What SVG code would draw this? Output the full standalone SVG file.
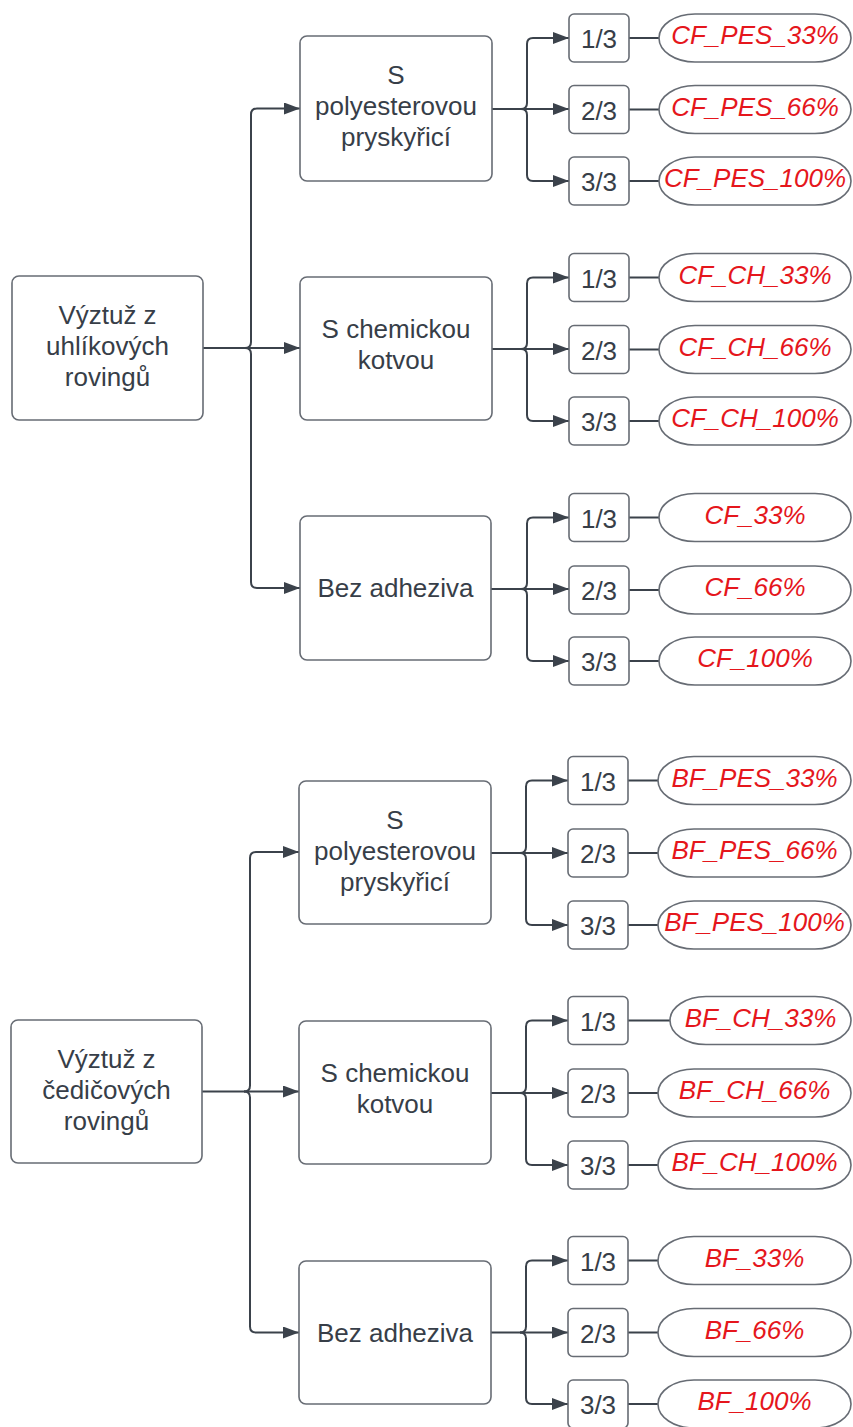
<svg xmlns="http://www.w3.org/2000/svg" width="853" height="1427" viewBox="0 0 853 1427">
  <defs>
    <marker id="arrow" viewBox="0 0 16 12" refX="16" refY="6" markerWidth="16" markerHeight="12" markerUnits="userSpaceOnUse" orient="auto">
      <path d="M0,0 L16,6 L0,12 z" fill="#3b424b"/>
    </marker>
  </defs>
  <style>
    .box { fill: #ffffff; stroke: #676c74; stroke-width: 1.6; }
    .pill { fill: #ffffff; stroke: #676c74; stroke-width: 1.6; }
    .lbl { font-family: "Liberation Sans", Arial, sans-serif; font-size: 26px; fill: #373e48; text-anchor: middle; }
    .frac { font-family: "Liberation Sans", Arial, sans-serif; font-size: 26px; fill: #373e48; text-anchor: middle; }
    .code { font-family: "Liberation Sans", Arial, sans-serif; font-size: 26px; font-style: italic; fill: #e5161c; text-anchor: middle; }
    .arr { fill: none; stroke: #3b424b; stroke-width: 2; marker-end: url(#arrow); }
    .ln { fill: none; stroke: #3b424b; stroke-width: 2; }
  </style>

  <rect width="853" height="1427" fill="#ffffff"/>

  <!-- connectors -->
  <g id="connectors">
    <!-- carbon: root to methods -->
    <path class="arr" d="M203,348 H300"/>
    <path class="arr" d="M245,348 Q251,348 251,342 V114.5 Q251,108.5 257,108.5 H300"/>
    <path class="arr" d="M245,348 Q251,348 251,354 V582 Q251,588 257,588 H300"/>
    <!-- carbon / polyester -->
    <path class="arr" d="M492,109 H569"/>
    <path class="arr" d="M521,109 Q527,109 527,103 V44 Q527,38 533,38 H569"/>
    <path class="arr" d="M521,109 Q527,109 527,115 V175 Q527,181 533,181 H569"/>
    <!-- carbon / chemical anchor -->
    <path class="arr" d="M492,349 H569"/>
    <path class="arr" d="M521,349 Q527,349 527,343 V283.5 Q527,277.5 533,277.5 H569"/>
    <path class="arr" d="M521,349 Q527,349 527,355 V415 Q527,421 533,421 H569"/>
    <!-- carbon / no adhesive -->
    <path class="arr" d="M491,589 H569"/>
    <path class="arr" d="M521,589 Q527,589 527,583 V523.5 Q527,517.5 533,517.5 H569"/>
    <path class="arr" d="M521,589 Q527,589 527,595 V655 Q527,661 533,661 H569"/>
    <!-- carbon: fractions to codes -->
    <path class="ln" d="M629,38 H659 M629,109.5 H659 M629,181 H659 M629,277.5 H659 M629,349.5 H659 M629,421 H659 M629,517.5 H659 M629,590 H659 M629,661 H659"/>

    <!-- basalt: root to methods -->
    <path class="arr" d="M202,1091.5 H299"/>
    <path class="arr" d="M244,1091.5 Q250,1091.5 250,1085.5 V858 Q250,852 256,852 H299"/>
    <path class="arr" d="M244,1091.5 Q250,1091.5 250,1097.5 V1326.5 Q250,1332.5 256,1332.5 H299"/>
    <!-- basalt / polyester -->
    <path class="arr" d="M491,853 H568"/>
    <path class="arr" d="M520,853 Q526,853 526,847 V786.5 Q526,780.5 532,780.5 H568"/>
    <path class="arr" d="M520,853 Q526,853 526,859 V919 Q526,925 532,925 H568"/>
    <!-- basalt / chemical anchor -->
    <path class="arr" d="M491,1093 H568"/>
    <path class="arr" d="M520,1093 Q526,1093 526,1087 V1026.5 Q526,1020.5 532,1020.5 H568"/>
    <path class="arr" d="M520,1093 Q526,1093 526,1099 V1159 Q526,1165 532,1165 H568"/>
    <!-- basalt / no adhesive -->
    <path class="arr" d="M491,1332.5 H568"/>
    <path class="arr" d="M520,1332.5 Q526,1332.5 526,1326.5 V1266.5 Q526,1260.5 532,1260.5 H568"/>
    <path class="arr" d="M520,1332.5 Q526,1332.5 526,1338.5 V1398 Q526,1404 532,1404 H568"/>
    <!-- basalt: fractions to codes -->
    <path class="ln" d="M628,780.5 H658 M628,853 H658 M628,925 H658 M628,1020.5 H670 M628,1093 H658 M628,1165 H658 M628,1260.5 H658 M628,1332.5 H658 M628,1404 H658"/>
  </g>

  <!-- ===== carbon fibre rovings ===== -->
  <g id="root-cf">
    <rect class="box" x="12" y="276" width="191" height="144" rx="7"/>
    <text class="lbl" x="107.5" y="324">Výztuž z</text>
    <text class="lbl" x="107.5" y="355">uhlíkových</text>
    <text class="lbl" x="107.5" y="386">rovingů</text>
  </g>

  <g id="cf-pes">
    <rect class="box" x="300" y="36" width="192" height="145" rx="7"/>
    <text class="lbl" x="396" y="84">S</text>
    <text class="lbl" x="396" y="115">polyesterovou</text>
    <text class="lbl" x="396" y="146">pryskyřicí</text>
  </g>
  <g id="cf-ch">
    <rect class="box" x="300" y="277" width="192" height="143" rx="7"/>
    <text class="lbl" x="396" y="338">S chemickou</text>
    <text class="lbl" x="396" y="369">kotvou</text>
  </g>
  <g id="cf-none">
    <rect class="box" x="300" y="516" width="191" height="144" rx="7"/>
    <text class="lbl" x="395.5" y="597">Bez adheziva</text>
  </g>

  <g id="cf-pes-1">
    <rect class="box" x="569" y="14" width="60" height="48" rx="5"/>
    <text class="frac" x="599" y="48">1/3</text>
  </g>
  <g id="cf-pes-2">
    <rect class="box" x="569" y="85.5" width="60" height="48" rx="5"/>
    <text class="frac" x="599" y="119.5">2/3</text>
  </g>
  <g id="cf-pes-3">
    <rect class="box" x="569" y="157" width="60" height="48" rx="5"/>
    <text class="frac" x="599" y="191">3/3</text>
  </g>
  <g id="cf-ch-1">
    <rect class="box" x="569" y="253.5" width="60" height="48" rx="5"/>
    <text class="frac" x="599" y="287.5">1/3</text>
  </g>
  <g id="cf-ch-2">
    <rect class="box" x="569" y="325.5" width="60" height="48" rx="5"/>
    <text class="frac" x="599" y="359.5">2/3</text>
  </g>
  <g id="cf-ch-3">
    <rect class="box" x="569" y="397" width="60" height="48" rx="5"/>
    <text class="frac" x="599" y="431">3/3</text>
  </g>
  <g id="cf-none-1">
    <rect class="box" x="569" y="493.5" width="60" height="48" rx="5"/>
    <text class="frac" x="599" y="527.5">1/3</text>
  </g>
  <g id="cf-none-2">
    <rect class="box" x="569" y="566" width="60" height="48" rx="5"/>
    <text class="frac" x="599" y="600">2/3</text>
  </g>
  <g id="cf-none-3">
    <rect class="box" x="569" y="637" width="60" height="48" rx="5"/>
    <text class="frac" x="599" y="671">3/3</text>
  </g>

  <g id="code-cf-pes-33">
    <rect class="pill" x="659" y="14" width="192" height="48" rx="36" ry="24"/>
    <text class="code" x="755" y="44">CF_PES_33%</text>
  </g>
  <g id="code-cf-pes-66">
    <rect class="pill" x="659" y="85.5" width="192" height="48" rx="36" ry="24"/>
    <text class="code" x="755" y="115.5">CF_PES_66%</text>
  </g>
  <g id="code-cf-pes-100">
    <rect class="pill" x="659" y="157" width="192" height="48" rx="36" ry="24"/>
    <text class="code" x="755" y="187">CF_PES_100%</text>
  </g>
  <g id="code-cf-ch-33">
    <rect class="pill" x="659" y="253.5" width="192" height="48" rx="36" ry="24"/>
    <text class="code" x="755" y="283.5">CF_CH_33%</text>
  </g>
  <g id="code-cf-ch-66">
    <rect class="pill" x="659" y="325.5" width="192" height="48" rx="36" ry="24"/>
    <text class="code" x="755" y="355.5">CF_CH_66%</text>
  </g>
  <g id="code-cf-ch-100">
    <rect class="pill" x="659" y="397" width="192" height="48" rx="36" ry="24"/>
    <text class="code" x="755" y="427">CF_CH_100%</text>
  </g>
  <g id="code-cf-33">
    <rect class="pill" x="659" y="493.5" width="192" height="48" rx="36" ry="24"/>
    <text class="code" x="755" y="523.5">CF_33%</text>
  </g>
  <g id="code-cf-66">
    <rect class="pill" x="659" y="566" width="192" height="48" rx="36" ry="24"/>
    <text class="code" x="755" y="596">CF_66%</text>
  </g>
  <g id="code-cf-100">
    <rect class="pill" x="659" y="637" width="192" height="48" rx="36" ry="24"/>
    <text class="code" x="755" y="667">CF_100%</text>
  </g>

  <!-- ===== basalt fibre rovings ===== -->
  <g id="root-bf">
    <rect class="box" x="11" y="1020" width="191" height="143" rx="7"/>
    <text class="lbl" x="106.5" y="1067.5">Výztuž z</text>
    <text class="lbl" x="106.5" y="1098.5">čedičových</text>
    <text class="lbl" x="106.5" y="1129.5">rovingů</text>
  </g>

  <g id="bf-pes">
    <rect class="box" x="299" y="781" width="192" height="143" rx="7"/>
    <text class="lbl" x="395" y="828.5">S</text>
    <text class="lbl" x="395" y="859.5">polyesterovou</text>
    <text class="lbl" x="395" y="890.5">pryskyřicí</text>
  </g>
  <g id="bf-ch">
    <rect class="box" x="299" y="1021" width="192" height="143" rx="7"/>
    <text class="lbl" x="395" y="1082">S chemickou</text>
    <text class="lbl" x="395" y="1113">kotvou</text>
  </g>
  <g id="bf-none">
    <rect class="box" x="299" y="1261" width="192" height="143" rx="7"/>
    <text class="lbl" x="395" y="1341.5">Bez adheziva</text>
  </g>

  <g id="bf-pes-1">
    <rect class="box" x="568" y="756.5" width="60" height="48" rx="5"/>
    <text class="frac" x="598" y="790.5">1/3</text>
  </g>
  <g id="bf-pes-2">
    <rect class="box" x="568" y="829" width="60" height="48" rx="5"/>
    <text class="frac" x="598" y="863">2/3</text>
  </g>
  <g id="bf-pes-3">
    <rect class="box" x="568" y="901" width="60" height="48" rx="5"/>
    <text class="frac" x="598" y="935">3/3</text>
  </g>
  <g id="bf-ch-1">
    <rect class="box" x="568" y="996.5" width="60" height="48" rx="5"/>
    <text class="frac" x="598" y="1030.5">1/3</text>
  </g>
  <g id="bf-ch-2">
    <rect class="box" x="568" y="1069" width="60" height="48" rx="5"/>
    <text class="frac" x="598" y="1103">2/3</text>
  </g>
  <g id="bf-ch-3">
    <rect class="box" x="568" y="1141" width="60" height="48" rx="5"/>
    <text class="frac" x="598" y="1175">3/3</text>
  </g>
  <g id="bf-none-1">
    <rect class="box" x="568" y="1236.5" width="60" height="48" rx="5"/>
    <text class="frac" x="598" y="1270.5">1/3</text>
  </g>
  <g id="bf-none-2">
    <rect class="box" x="568" y="1308.5" width="60" height="48" rx="5"/>
    <text class="frac" x="598" y="1342.5">2/3</text>
  </g>
  <g id="bf-none-3">
    <rect class="box" x="568" y="1380" width="60" height="48" rx="5"/>
    <text class="frac" x="598" y="1414">3/3</text>
  </g>

  <g id="code-bf-pes-33">
    <rect class="pill" x="658" y="756.5" width="193" height="48" rx="36" ry="24"/>
    <text class="code" x="754.5" y="786.5">BF_PES_33%</text>
  </g>
  <g id="code-bf-pes-66">
    <rect class="pill" x="658" y="829" width="193" height="48" rx="36" ry="24"/>
    <text class="code" x="754.5" y="859">BF_PES_66%</text>
  </g>
  <g id="code-bf-pes-100">
    <rect class="pill" x="658" y="901" width="193" height="48" rx="36" ry="24"/>
    <text class="code" x="754.5" y="931">BF_PES_100%</text>
  </g>
  <g id="code-bf-ch-33">
    <rect class="pill" x="670" y="996.5" width="181" height="48" rx="36" ry="24"/>
    <text class="code" x="760.5" y="1026.5">BF_CH_33%</text>
  </g>
  <g id="code-bf-ch-66">
    <rect class="pill" x="658" y="1069" width="193" height="48" rx="36" ry="24"/>
    <text class="code" x="754.5" y="1099">BF_CH_66%</text>
  </g>
  <g id="code-bf-ch-100">
    <rect class="pill" x="658" y="1141" width="193" height="48" rx="36" ry="24"/>
    <text class="code" x="754.5" y="1171">BF_CH_100%</text>
  </g>
  <g id="code-bf-33">
    <rect class="pill" x="658" y="1236.5" width="193" height="48" rx="36" ry="24"/>
    <text class="code" x="754.5" y="1266.5">BF_33%</text>
  </g>
  <g id="code-bf-66">
    <rect class="pill" x="658" y="1308.5" width="193" height="48" rx="36" ry="24"/>
    <text class="code" x="754.5" y="1338.5">BF_66%</text>
  </g>
  <g id="code-bf-100">
    <rect class="pill" x="658" y="1380" width="193" height="48" rx="36" ry="24"/>
    <text class="code" x="754.5" y="1410">BF_100%</text>
  </g>
</svg>
